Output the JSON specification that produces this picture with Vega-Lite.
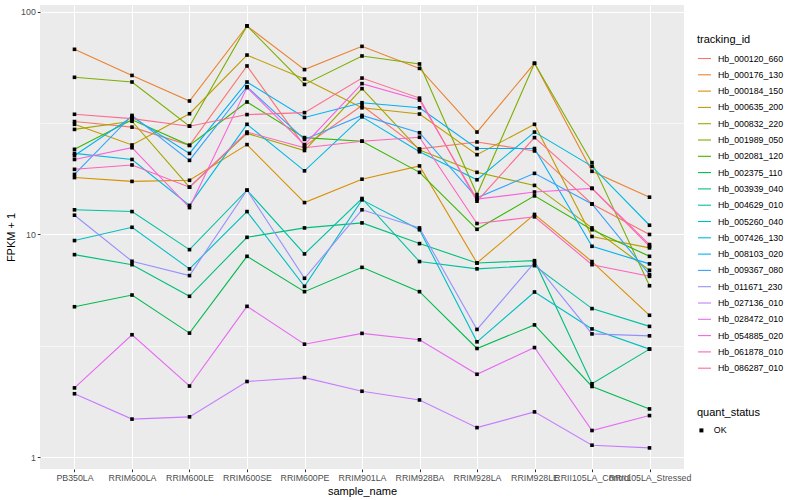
{
  "$schema": "https://vega.github.io/schema/vega-lite/v6.json",
  "width": 644,
  "height": 464,
  "autosize": {"type": "none"},
  "padding": {"left": 40, "top": 5, "right": 116, "bottom": 31},
  "background": "white",
  "config": {
    "font": "Liberation Sans",
    "view": {"fill": "#EBEBEB", "stroke": null},
    "axis": {
      "domain": false,
      "labelColor": "#4D4D4D",
      "labelFontSize": 8.8,
      "titleFontSize": 11,
      "titleFontWeight": "normal",
      "titleColor": "black",
      "tickColor": "#333333",
      "tickSize": 2.7,
      "tickWidth": 1,
      "gridColor": "white",
      "labelPadding": 2
    },
    "legend": {
      "titleFontSize": 11,
      "titleFontWeight": "normal",
      "titleColor": "black",
      "labelFontSize": 8.8,
      "labelColor": "black"
    }
  },
  "data": {
    "values": [
      {"tracking_id":"Hb_000120_660","sample_name":"PB350LA","fpkm":32.1,"quant_status":"OK"},
      {"tracking_id":"Hb_000120_660","sample_name":"RRIM600LA","fpkm":30.3,"quant_status":"OK"},
      {"tracking_id":"Hb_000120_660","sample_name":"RRIM600LE","fpkm":25.1,"quant_status":"OK"},
      {"tracking_id":"Hb_000120_660","sample_name":"RRIM600SE","fpkm":57.0,"quant_status":"OK"},
      {"tracking_id":"Hb_000120_660","sample_name":"RRIM600PE","fpkm":24.9,"quant_status":"OK"},
      {"tracking_id":"Hb_000120_660","sample_name":"RRIM901LA","fpkm":37.9,"quant_status":"OK"},
      {"tracking_id":"Hb_000120_660","sample_name":"RRIM928BA","fpkm":24.2,"quant_status":"OK"},
      {"tracking_id":"Hb_000120_660","sample_name":"RRIM928LA","fpkm":26.0,"quant_status":"OK"},
      {"tracking_id":"Hb_000120_660","sample_name":"RRIM928LE","fpkm":23.7,"quant_status":"OK"},
      {"tracking_id":"Hb_000120_660","sample_name":"RRII105LA_Control","fpkm":13.7,"quant_status":"OK"},
      {"tracking_id":"Hb_000120_660","sample_name":"RRII105LA_Stressed","fpkm":10.0,"quant_status":"OK"},

      {"tracking_id":"Hb_000176_130","sample_name":"PB350LA","fpkm":67.7,"quant_status":"OK"},
      {"tracking_id":"Hb_000176_130","sample_name":"RRIM600LA","fpkm":51.7,"quant_status":"OK"},
      {"tracking_id":"Hb_000176_130","sample_name":"RRIM600LE","fpkm":39.7,"quant_status":"OK"},
      {"tracking_id":"Hb_000176_130","sample_name":"RRIM600SE","fpkm":86.2,"quant_status":"OK"},
      {"tracking_id":"Hb_000176_130","sample_name":"RRIM600PE","fpkm":54.9,"quant_status":"OK"},
      {"tracking_id":"Hb_000176_130","sample_name":"RRIM901LA","fpkm":69.8,"quant_status":"OK"},
      {"tracking_id":"Hb_000176_130","sample_name":"RRIM928BA","fpkm":55.6,"quant_status":"OK"},
      {"tracking_id":"Hb_000176_130","sample_name":"RRIM928LA","fpkm":28.8,"quant_status":"OK"},
      {"tracking_id":"Hb_000176_130","sample_name":"RRIM928LE","fpkm":58.6,"quant_status":"OK"},
      {"tracking_id":"Hb_000176_130","sample_name":"RRII105LA_Control","fpkm":19.2,"quant_status":"OK"},
      {"tracking_id":"Hb_000176_130","sample_name":"RRII105LA_Stressed","fpkm":14.7,"quant_status":"OK"},

      {"tracking_id":"Hb_000184_150","sample_name":"PB350LA","fpkm":18.0,"quant_status":"OK"},
      {"tracking_id":"Hb_000184_150","sample_name":"RRIM600LA","fpkm":17.3,"quant_status":"OK"},
      {"tracking_id":"Hb_000184_150","sample_name":"RRIM600LE","fpkm":17.5,"quant_status":"OK"},
      {"tracking_id":"Hb_000184_150","sample_name":"RRIM600SE","fpkm":25.3,"quant_status":"OK"},
      {"tracking_id":"Hb_000184_150","sample_name":"RRIM600PE","fpkm":13.9,"quant_status":"OK"},
      {"tracking_id":"Hb_000184_150","sample_name":"RRIM901LA","fpkm":17.7,"quant_status":"OK"},
      {"tracking_id":"Hb_000184_150","sample_name":"RRIM928BA","fpkm":20.3,"quant_status":"OK"},
      {"tracking_id":"Hb_000184_150","sample_name":"RRIM928LA","fpkm":7.45,"quant_status":"OK"},
      {"tracking_id":"Hb_000184_150","sample_name":"RRIM928LE","fpkm":12.3,"quant_status":"OK"},
      {"tracking_id":"Hb_000184_150","sample_name":"RRII105LA_Control","fpkm":7.56,"quant_status":"OK"},
      {"tracking_id":"Hb_000184_150","sample_name":"RRII105LA_Stressed","fpkm":4.34,"quant_status":"OK"},

      {"tracking_id":"Hb_000635_200","sample_name":"PB350LA","fpkm":31.2,"quant_status":"OK"},
      {"tracking_id":"Hb_000635_200","sample_name":"RRIM600LA","fpkm":25.2,"quant_status":"OK"},
      {"tracking_id":"Hb_000635_200","sample_name":"RRIM600LE","fpkm":34.8,"quant_status":"OK"},
      {"tracking_id":"Hb_000635_200","sample_name":"RRIM600SE","fpkm":63.8,"quant_status":"OK"},
      {"tracking_id":"Hb_000635_200","sample_name":"RRIM600PE","fpkm":49.8,"quant_status":"OK"},
      {"tracking_id":"Hb_000635_200","sample_name":"RRIM901LA","fpkm":37.0,"quant_status":"OK"},
      {"tracking_id":"Hb_000635_200","sample_name":"RRIM928BA","fpkm":34.7,"quant_status":"OK"},
      {"tracking_id":"Hb_000635_200","sample_name":"RRIM928LA","fpkm":22.8,"quant_status":"OK"},
      {"tracking_id":"Hb_000635_200","sample_name":"RRIM928LE","fpkm":31.2,"quant_status":"OK"},
      {"tracking_id":"Hb_000635_200","sample_name":"RRII105LA_Control","fpkm":9.79,"quant_status":"OK"},
      {"tracking_id":"Hb_000635_200","sample_name":"RRII105LA_Stressed","fpkm":8.71,"quant_status":"OK"},

      {"tracking_id":"Hb_000832_220","sample_name":"PB350LA","fpkm":29.6,"quant_status":"OK"},
      {"tracking_id":"Hb_000832_220","sample_name":"RRIM600LA","fpkm":32.2,"quant_status":"OK"},
      {"tracking_id":"Hb_000832_220","sample_name":"RRIM600LE","fpkm":16.3,"quant_status":"OK"},
      {"tracking_id":"Hb_000832_220","sample_name":"RRIM600SE","fpkm":28.4,"quant_status":"OK"},
      {"tracking_id":"Hb_000832_220","sample_name":"RRIM600PE","fpkm":23.8,"quant_status":"OK"},
      {"tracking_id":"Hb_000832_220","sample_name":"RRIM901LA","fpkm":45.1,"quant_status":"OK"},
      {"tracking_id":"Hb_000832_220","sample_name":"RRIM928BA","fpkm":23.9,"quant_status":"OK"},
      {"tracking_id":"Hb_000832_220","sample_name":"RRIM928LA","fpkm":19.0,"quant_status":"OK"},
      {"tracking_id":"Hb_000832_220","sample_name":"RRIM928LE","fpkm":16.6,"quant_status":"OK"},
      {"tracking_id":"Hb_000832_220","sample_name":"RRII105LA_Control","fpkm":10.7,"quant_status":"OK"},
      {"tracking_id":"Hb_000832_220","sample_name":"RRII105LA_Stressed","fpkm":6.91,"quant_status":"OK"},

      {"tracking_id":"Hb_001989_050","sample_name":"PB350LA","fpkm":50.7,"quant_status":"OK"},
      {"tracking_id":"Hb_001989_050","sample_name":"RRIM600LA","fpkm":48.3,"quant_status":"OK"},
      {"tracking_id":"Hb_001989_050","sample_name":"RRIM600LE","fpkm":30.6,"quant_status":"OK"},
      {"tracking_id":"Hb_001989_050","sample_name":"RRIM600SE","fpkm":86.2,"quant_status":"OK"},
      {"tracking_id":"Hb_001989_050","sample_name":"RRIM600PE","fpkm":47.1,"quant_status":"OK"},
      {"tracking_id":"Hb_001989_050","sample_name":"RRIM901LA","fpkm":63.2,"quant_status":"OK"},
      {"tracking_id":"Hb_001989_050","sample_name":"RRIM928BA","fpkm":58.2,"quant_status":"OK"},
      {"tracking_id":"Hb_001989_050","sample_name":"RRIM928LA","fpkm":15.1,"quant_status":"OK"},
      {"tracking_id":"Hb_001989_050","sample_name":"RRIM928LE","fpkm":58.6,"quant_status":"OK"},
      {"tracking_id":"Hb_001989_050","sample_name":"RRII105LA_Control","fpkm":21.0,"quant_status":"OK"},
      {"tracking_id":"Hb_001989_050","sample_name":"RRII105LA_Stressed","fpkm":5.89,"quant_status":"OK"},

      {"tracking_id":"Hb_002081_120","sample_name":"PB350LA","fpkm":24.1,"quant_status":"OK"},
      {"tracking_id":"Hb_002081_120","sample_name":"RRIM600LA","fpkm":32.7,"quant_status":"OK"},
      {"tracking_id":"Hb_002081_120","sample_name":"RRIM600LE","fpkm":25.1,"quant_status":"OK"},
      {"tracking_id":"Hb_002081_120","sample_name":"RRIM600SE","fpkm":39.3,"quant_status":"OK"},
      {"tracking_id":"Hb_002081_120","sample_name":"RRIM600PE","fpkm":27.2,"quant_status":"OK"},
      {"tracking_id":"Hb_002081_120","sample_name":"RRIM901LA","fpkm":26.2,"quant_status":"OK"},
      {"tracking_id":"Hb_002081_120","sample_name":"RRIM928BA","fpkm":19.0,"quant_status":"OK"},
      {"tracking_id":"Hb_002081_120","sample_name":"RRIM928LA","fpkm":10.55,"quant_status":"OK"},
      {"tracking_id":"Hb_002081_120","sample_name":"RRIM928LE","fpkm":14.9,"quant_status":"OK"},
      {"tracking_id":"Hb_002081_120","sample_name":"RRII105LA_Control","fpkm":10.5,"quant_status":"OK"},
      {"tracking_id":"Hb_002081_120","sample_name":"RRII105LA_Stressed","fpkm":7.98,"quant_status":"OK"},

      {"tracking_id":"Hb_002375_110","sample_name":"PB350LA","fpkm":4.74,"quant_status":"OK"},
      {"tracking_id":"Hb_002375_110","sample_name":"RRIM600LA","fpkm":5.35,"quant_status":"OK"},
      {"tracking_id":"Hb_002375_110","sample_name":"RRIM600LE","fpkm":3.61,"quant_status":"OK"},
      {"tracking_id":"Hb_002375_110","sample_name":"RRIM600SE","fpkm":7.98,"quant_status":"OK"},
      {"tracking_id":"Hb_002375_110","sample_name":"RRIM600PE","fpkm":5.54,"quant_status":"OK"},
      {"tracking_id":"Hb_002375_110","sample_name":"RRIM901LA","fpkm":7.12,"quant_status":"OK"},
      {"tracking_id":"Hb_002375_110","sample_name":"RRIM928BA","fpkm":5.54,"quant_status":"OK"},
      {"tracking_id":"Hb_002375_110","sample_name":"RRIM928LA","fpkm":3.08,"quant_status":"OK"},
      {"tracking_id":"Hb_002375_110","sample_name":"RRIM928LE","fpkm":3.93,"quant_status":"OK"},
      {"tracking_id":"Hb_002375_110","sample_name":"RRII105LA_Control","fpkm":2.08,"quant_status":"OK"},
      {"tracking_id":"Hb_002375_110","sample_name":"RRII105LA_Stressed","fpkm":1.65,"quant_status":"OK"},

      {"tracking_id":"Hb_003939_040","sample_name":"PB350LA","fpkm":8.12,"quant_status":"OK"},
      {"tracking_id":"Hb_003939_040","sample_name":"RRIM600LA","fpkm":7.32,"quant_status":"OK"},
      {"tracking_id":"Hb_003939_040","sample_name":"RRIM600LE","fpkm":5.28,"quant_status":"OK"},
      {"tracking_id":"Hb_003939_040","sample_name":"RRIM600SE","fpkm":9.71,"quant_status":"OK"},
      {"tracking_id":"Hb_003939_040","sample_name":"RRIM600PE","fpkm":10.7,"quant_status":"OK"},
      {"tracking_id":"Hb_003939_040","sample_name":"RRIM901LA","fpkm":11.27,"quant_status":"OK"},
      {"tracking_id":"Hb_003939_040","sample_name":"RRIM928BA","fpkm":9.10,"quant_status":"OK"},
      {"tracking_id":"Hb_003939_040","sample_name":"RRIM928LA","fpkm":7.45,"quant_status":"OK"},
      {"tracking_id":"Hb_003939_040","sample_name":"RRIM928LE","fpkm":7.63,"quant_status":"OK"},
      {"tracking_id":"Hb_003939_040","sample_name":"RRII105LA_Control","fpkm":2.14,"quant_status":"OK"},
      {"tracking_id":"Hb_003939_040","sample_name":"RRII105LA_Stressed","fpkm":3.06,"quant_status":"OK"},

      {"tracking_id":"Hb_004629_010","sample_name":"PB350LA","fpkm":12.9,"quant_status":"OK"},
      {"tracking_id":"Hb_004629_010","sample_name":"RRIM600LA","fpkm":12.67,"quant_status":"OK"},
      {"tracking_id":"Hb_004629_010","sample_name":"RRIM600LE","fpkm":8.55,"quant_status":"OK"},
      {"tracking_id":"Hb_004629_010","sample_name":"RRIM600SE","fpkm":15.8,"quant_status":"OK"},
      {"tracking_id":"Hb_004629_010","sample_name":"RRIM600PE","fpkm":8.18,"quant_status":"OK"},
      {"tracking_id":"Hb_004629_010","sample_name":"RRIM901LA","fpkm":14.5,"quant_status":"OK"},
      {"tracking_id":"Hb_004629_010","sample_name":"RRIM928BA","fpkm":7.56,"quant_status":"OK"},
      {"tracking_id":"Hb_004629_010","sample_name":"RRIM928LA","fpkm":7.01,"quant_status":"OK"},
      {"tracking_id":"Hb_004629_010","sample_name":"RRIM928LE","fpkm":7.25,"quant_status":"OK"},
      {"tracking_id":"Hb_004629_010","sample_name":"RRII105LA_Control","fpkm":4.65,"quant_status":"OK"},
      {"tracking_id":"Hb_004629_010","sample_name":"RRII105LA_Stressed","fpkm":3.87,"quant_status":"OK"},

      {"tracking_id":"Hb_005260_040","sample_name":"PB350LA","fpkm":9.39,"quant_status":"OK"},
      {"tracking_id":"Hb_005260_040","sample_name":"RRIM600LA","fpkm":10.77,"quant_status":"OK"},
      {"tracking_id":"Hb_005260_040","sample_name":"RRIM600LE","fpkm":7.01,"quant_status":"OK"},
      {"tracking_id":"Hb_005260_040","sample_name":"RRIM600SE","fpkm":12.67,"quant_status":"OK"},
      {"tracking_id":"Hb_005260_040","sample_name":"RRIM600PE","fpkm":5.85,"quant_status":"OK"},
      {"tracking_id":"Hb_005260_040","sample_name":"RRIM901LA","fpkm":14.3,"quant_status":"OK"},
      {"tracking_id":"Hb_005260_040","sample_name":"RRIM928BA","fpkm":10.5,"quant_status":"OK"},
      {"tracking_id":"Hb_005260_040","sample_name":"RRIM928LA","fpkm":3.30,"quant_status":"OK"},
      {"tracking_id":"Hb_005260_040","sample_name":"RRIM928LE","fpkm":5.52,"quant_status":"OK"},
      {"tracking_id":"Hb_005260_040","sample_name":"RRII105LA_Control","fpkm":3.77,"quant_status":"OK"},
      {"tracking_id":"Hb_005260_040","sample_name":"RRII105LA_Stressed","fpkm":3.06,"quant_status":"OK"},

      {"tracking_id":"Hb_007426_130","sample_name":"PB350LA","fpkm":23.1,"quant_status":"OK"},
      {"tracking_id":"Hb_007426_130","sample_name":"RRIM600LA","fpkm":21.7,"quant_status":"OK"},
      {"tracking_id":"Hb_007426_130","sample_name":"RRIM600LE","fpkm":13.5,"quant_status":"OK"},
      {"tracking_id":"Hb_007426_130","sample_name":"RRIM600SE","fpkm":31.2,"quant_status":"OK"},
      {"tracking_id":"Hb_007426_130","sample_name":"RRIM600PE","fpkm":19.3,"quant_status":"OK"},
      {"tracking_id":"Hb_007426_130","sample_name":"RRIM901LA","fpkm":33.7,"quant_status":"OK"},
      {"tracking_id":"Hb_007426_130","sample_name":"RRIM928BA","fpkm":23.5,"quant_status":"OK"},
      {"tracking_id":"Hb_007426_130","sample_name":"RRIM928LA","fpkm":17.6,"quant_status":"OK"},
      {"tracking_id":"Hb_007426_130","sample_name":"RRIM928LE","fpkm":28.8,"quant_status":"OK"},
      {"tracking_id":"Hb_007426_130","sample_name":"RRII105LA_Control","fpkm":20.2,"quant_status":"OK"},
      {"tracking_id":"Hb_007426_130","sample_name":"RRII105LA_Stressed","fpkm":11.0,"quant_status":"OK"},

      {"tracking_id":"Hb_008103_020","sample_name":"PB350LA","fpkm":22.6,"quant_status":"OK"},
      {"tracking_id":"Hb_008103_020","sample_name":"RRIM600LA","fpkm":33.7,"quant_status":"OK"},
      {"tracking_id":"Hb_008103_020","sample_name":"RRIM600LE","fpkm":23.1,"quant_status":"OK"},
      {"tracking_id":"Hb_008103_020","sample_name":"RRIM600SE","fpkm":48.3,"quant_status":"OK"},
      {"tracking_id":"Hb_008103_020","sample_name":"RRIM600PE","fpkm":33.5,"quant_status":"OK"},
      {"tracking_id":"Hb_008103_020","sample_name":"RRIM901LA","fpkm":39.0,"quant_status":"OK"},
      {"tracking_id":"Hb_008103_020","sample_name":"RRIM928BA","fpkm":37.0,"quant_status":"OK"},
      {"tracking_id":"Hb_008103_020","sample_name":"RRIM928LA","fpkm":24.3,"quant_status":"OK"},
      {"tracking_id":"Hb_008103_020","sample_name":"RRIM928LE","fpkm":24.3,"quant_status":"OK"},
      {"tracking_id":"Hb_008103_020","sample_name":"RRII105LA_Control","fpkm":8.85,"quant_status":"OK"},
      {"tracking_id":"Hb_008103_020","sample_name":"RRII105LA_Stressed","fpkm":7.38,"quant_status":"OK"},

      {"tracking_id":"Hb_009367_080","sample_name":"PB350LA","fpkm":18.6,"quant_status":"OK"},
      {"tracking_id":"Hb_009367_080","sample_name":"RRIM600LA","fpkm":34.2,"quant_status":"OK"},
      {"tracking_id":"Hb_009367_080","sample_name":"RRIM600LE","fpkm":21.5,"quant_status":"OK"},
      {"tracking_id":"Hb_009367_080","sample_name":"RRIM600SE","fpkm":46.0,"quant_status":"OK"},
      {"tracking_id":"Hb_009367_080","sample_name":"RRIM600PE","fpkm":26.7,"quant_status":"OK"},
      {"tracking_id":"Hb_009367_080","sample_name":"RRIM901LA","fpkm":34.2,"quant_status":"OK"},
      {"tracking_id":"Hb_009367_080","sample_name":"RRIM928BA","fpkm":28.6,"quant_status":"OK"},
      {"tracking_id":"Hb_009367_080","sample_name":"RRIM928LA","fpkm":14.6,"quant_status":"OK"},
      {"tracking_id":"Hb_009367_080","sample_name":"RRIM928LE","fpkm":18.8,"quant_status":"OK"},
      {"tracking_id":"Hb_009367_080","sample_name":"RRII105LA_Control","fpkm":13.7,"quant_status":"OK"},
      {"tracking_id":"Hb_009367_080","sample_name":"RRII105LA_Stressed","fpkm":6.61,"quant_status":"OK"},

      {"tracking_id":"Hb_011671_230","sample_name":"PB350LA","fpkm":12.2,"quant_status":"OK"},
      {"tracking_id":"Hb_011671_230","sample_name":"RRIM600LA","fpkm":7.58,"quant_status":"OK"},
      {"tracking_id":"Hb_011671_230","sample_name":"RRIM600LE","fpkm":6.54,"quant_status":"OK"},
      {"tracking_id":"Hb_011671_230","sample_name":"RRIM600SE","fpkm":15.8,"quant_status":"OK"},
      {"tracking_id":"Hb_011671_230","sample_name":"RRIM600PE","fpkm":6.36,"quant_status":"OK"},
      {"tracking_id":"Hb_011671_230","sample_name":"RRIM901LA","fpkm":12.9,"quant_status":"OK"},
      {"tracking_id":"Hb_011671_230","sample_name":"RRIM928BA","fpkm":10.7,"quant_status":"OK"},
      {"tracking_id":"Hb_011671_230","sample_name":"RRIM928LA","fpkm":3.75,"quant_status":"OK"},
      {"tracking_id":"Hb_011671_230","sample_name":"RRIM928LE","fpkm":7.48,"quant_status":"OK"},
      {"tracking_id":"Hb_011671_230","sample_name":"RRII105LA_Control","fpkm":3.58,"quant_status":"OK"},
      {"tracking_id":"Hb_011671_230","sample_name":"RRII105LA_Stressed","fpkm":3.51,"quant_status":"OK"},

      {"tracking_id":"Hb_027136_010","sample_name":"PB350LA","fpkm":1.93,"quant_status":"OK"},
      {"tracking_id":"Hb_027136_010","sample_name":"RRIM600LA","fpkm":1.485,"quant_status":"OK"},
      {"tracking_id":"Hb_027136_010","sample_name":"RRIM600LE","fpkm":1.52,"quant_status":"OK"},
      {"tracking_id":"Hb_027136_010","sample_name":"RRIM600SE","fpkm":2.19,"quant_status":"OK"},
      {"tracking_id":"Hb_027136_010","sample_name":"RRIM600PE","fpkm":2.28,"quant_status":"OK"},
      {"tracking_id":"Hb_027136_010","sample_name":"RRIM901LA","fpkm":1.98,"quant_status":"OK"},
      {"tracking_id":"Hb_027136_010","sample_name":"RRIM928BA","fpkm":1.81,"quant_status":"OK"},
      {"tracking_id":"Hb_027136_010","sample_name":"RRIM928LA","fpkm":1.36,"quant_status":"OK"},
      {"tracking_id":"Hb_027136_010","sample_name":"RRIM928LE","fpkm":1.60,"quant_status":"OK"},
      {"tracking_id":"Hb_027136_010","sample_name":"RRII105LA_Control","fpkm":1.134,"quant_status":"OK"},
      {"tracking_id":"Hb_027136_010","sample_name":"RRII105LA_Stressed","fpkm":1.103,"quant_status":"OK"},

      {"tracking_id":"Hb_028472_010","sample_name":"PB350LA","fpkm":2.05,"quant_status":"OK"},
      {"tracking_id":"Hb_028472_010","sample_name":"RRIM600LA","fpkm":3.55,"quant_status":"OK"},
      {"tracking_id":"Hb_028472_010","sample_name":"RRIM600LE","fpkm":2.09,"quant_status":"OK"},
      {"tracking_id":"Hb_028472_010","sample_name":"RRIM600SE","fpkm":4.76,"quant_status":"OK"},
      {"tracking_id":"Hb_028472_010","sample_name":"RRIM600PE","fpkm":3.22,"quant_status":"OK"},
      {"tracking_id":"Hb_028472_010","sample_name":"RRIM901LA","fpkm":3.60,"quant_status":"OK"},
      {"tracking_id":"Hb_028472_010","sample_name":"RRIM928BA","fpkm":3.37,"quant_status":"OK"},
      {"tracking_id":"Hb_028472_010","sample_name":"RRIM928LA","fpkm":2.36,"quant_status":"OK"},
      {"tracking_id":"Hb_028472_010","sample_name":"RRIM928LE","fpkm":3.11,"quant_status":"OK"},
      {"tracking_id":"Hb_028472_010","sample_name":"RRII105LA_Control","fpkm":1.32,"quant_status":"OK"},
      {"tracking_id":"Hb_028472_010","sample_name":"RRII105LA_Stressed","fpkm":1.54,"quant_status":"OK"},

      {"tracking_id":"Hb_054885_020","sample_name":"PB350LA","fpkm":21.7,"quant_status":"OK"},
      {"tracking_id":"Hb_054885_020","sample_name":"RRIM600LA","fpkm":24.5,"quant_status":"OK"},
      {"tracking_id":"Hb_054885_020","sample_name":"RRIM600LE","fpkm":13.2,"quant_status":"OK"},
      {"tracking_id":"Hb_054885_020","sample_name":"RRIM600SE","fpkm":45.6,"quant_status":"OK"},
      {"tracking_id":"Hb_054885_020","sample_name":"RRIM600PE","fpkm":25.3,"quant_status":"OK"},
      {"tracking_id":"Hb_054885_020","sample_name":"RRIM901LA","fpkm":47.5,"quant_status":"OK"},
      {"tracking_id":"Hb_054885_020","sample_name":"RRIM928BA","fpkm":40.1,"quant_status":"OK"},
      {"tracking_id":"Hb_054885_020","sample_name":"RRIM928LA","fpkm":14.4,"quant_status":"OK"},
      {"tracking_id":"Hb_054885_020","sample_name":"RRIM928LE","fpkm":15.5,"quant_status":"OK"},
      {"tracking_id":"Hb_054885_020","sample_name":"RRII105LA_Control","fpkm":16.1,"quant_status":"OK"},
      {"tracking_id":"Hb_054885_020","sample_name":"RRII105LA_Stressed","fpkm":9.01,"quant_status":"OK"},

      {"tracking_id":"Hb_061878_010","sample_name":"PB350LA","fpkm":19.6,"quant_status":"OK"},
      {"tracking_id":"Hb_061878_010","sample_name":"RRIM600LA","fpkm":20.5,"quant_status":"OK"},
      {"tracking_id":"Hb_061878_010","sample_name":"RRIM600LE","fpkm":16.3,"quant_status":"OK"},
      {"tracking_id":"Hb_061878_010","sample_name":"RRIM600SE","fpkm":28.8,"quant_status":"OK"},
      {"tracking_id":"Hb_061878_010","sample_name":"RRIM600PE","fpkm":24.5,"quant_status":"OK"},
      {"tracking_id":"Hb_061878_010","sample_name":"RRIM901LA","fpkm":26.2,"quant_status":"OK"},
      {"tracking_id":"Hb_061878_010","sample_name":"RRIM928BA","fpkm":27.3,"quant_status":"OK"},
      {"tracking_id":"Hb_061878_010","sample_name":"RRIM928LA","fpkm":11.2,"quant_status":"OK"},
      {"tracking_id":"Hb_061878_010","sample_name":"RRIM928LE","fpkm":12.0,"quant_status":"OK"},
      {"tracking_id":"Hb_061878_010","sample_name":"RRII105LA_Control","fpkm":7.32,"quant_status":"OK"},
      {"tracking_id":"Hb_061878_010","sample_name":"RRII105LA_Stressed","fpkm":6.49,"quant_status":"OK"},

      {"tracking_id":"Hb_086287_010","sample_name":"PB350LA","fpkm":34.6,"quant_status":"OK"},
      {"tracking_id":"Hb_086287_010","sample_name":"RRIM600LA","fpkm":33.1,"quant_status":"OK"},
      {"tracking_id":"Hb_086287_010","sample_name":"RRIM600LE","fpkm":30.6,"quant_status":"OK"},
      {"tracking_id":"Hb_086287_010","sample_name":"RRIM600SE","fpkm":34.5,"quant_status":"OK"},
      {"tracking_id":"Hb_086287_010","sample_name":"RRIM600PE","fpkm":35.2,"quant_status":"OK"},
      {"tracking_id":"Hb_086287_010","sample_name":"RRIM901LA","fpkm":50.3,"quant_status":"OK"},
      {"tracking_id":"Hb_086287_010","sample_name":"RRIM928BA","fpkm":40.9,"quant_status":"OK"},
      {"tracking_id":"Hb_086287_010","sample_name":"RRIM928LA","fpkm":14.1,"quant_status":"OK"},
      {"tracking_id":"Hb_086287_010","sample_name":"RRIM928LE","fpkm":27.2,"quant_status":"OK"},
      {"tracking_id":"Hb_086287_010","sample_name":"RRII105LA_Control","fpkm":16.1,"quant_status":"OK"},
      {"tracking_id":"Hb_086287_010","sample_name":"RRII105LA_Stressed","fpkm":8.85,"quant_status":"OK"}
    ]
  },
  "encoding": {
    "x": {
      "field": "sample_name",
      "type": "nominal",
      "sort": ["PB350LA","RRIM600LA","RRIM600LE","RRIM600SE","RRIM600PE","RRIM901LA","RRIM928BA","RRIM928LA","RRIM928LE","RRII105LA_Control","RRII105LA_Stressed"],
      "scale": {"type": "point", "padding": 0.6},
      "axis": {
        "title": "sample_name",
        "labelAngle": 0,
        "labelOverlap": false,
        "labelBound": false,
        "grid": true,
        "gridWidth": 1.07,
        "titlePadding": 3
      }
    },
    "y": {
      "field": "fpkm",
      "type": "quantitative",
      "scale": {"type": "log", "domain": [0.887, 107], "nice": false, "zero": false},
      "axis": {
        "title": "FPKM + 1",
        "values": [1, 3.1623, 10, 31.623, 100],
        "labelOverlap": false,
        "labelExpr": "datum.value < 1.5 ? '1' : (datum.value > 9 && datum.value < 11) ? '10' : datum.value > 90 ? '100' : ''",
        "grid": true,
        "gridWidth": {"condition": {"test": "datum.value < 1.5 || (datum.value > 9 && datum.value < 11) || datum.value > 90", "value": 1.07}, "value": 0.55},
        "tickOpacity": {"condition": {"test": "datum.value < 1.5 || (datum.value > 9 && datum.value < 11) || datum.value > 90", "value": 1}, "value": 0},
        "titlePadding": 4
      }
    }
  },
  "layer": [
    {
      "mark": {"type": "line", "strokeWidth": 1.1},
      "encoding": {
        "color": {
          "field": "tracking_id",
          "type": "nominal",
          "scale": {
            "domain": ["Hb_000120_660","Hb_000176_130","Hb_000184_150","Hb_000635_200","Hb_000832_220","Hb_001989_050","Hb_002081_120","Hb_002375_110","Hb_003939_040","Hb_004629_010","Hb_005260_040","Hb_007426_130","Hb_008103_020","Hb_009367_080","Hb_011671_230","Hb_027136_010","Hb_028472_010","Hb_054885_020","Hb_061878_010","Hb_086287_010"],
            "range": ["#F8766D","#EA8331","#D89000","#C09B00","#A3A500","#7CAE00","#39B600","#00BB4E","#00BF7D","#00C1A3","#00BFC4","#00BAE0","#00B0F6","#35A2FF","#9590FF","#C77CFF","#E76BF3","#FA62DB","#FF62BC","#FF6C91"]
          },
          "legend": {
            "title": "tracking_id",
            "orient": "none",
            "legendX": 657,
            "legendY": 29,
            "symbolType": "stroke",
            "symbolSize": 170,
            "symbolStrokeWidth": 1.1,
            "rowPadding": 3.3,
            "labelOffset": 6,
            "titlePadding": 6
          }
        }
      }
    },
    {
      "mark": {"type": "point", "filled": true, "color": "black", "size": 13, "opacity": 1},
      "encoding": {
        "shape": {
          "field": "quant_status",
          "type": "nominal",
          "scale": {"domain": ["OK"], "range": ["square"]},
          "legend": {
            "title": "quant_status",
            "orient": "none",
            "legendX": 657,
            "legendY": 402,
            "symbolSize": 16,
            "symbolFillColor": "black",
            "symbolStrokeColor": "black",
            "labelOffset": 8,
            "titlePadding": 8
          }
        }
      }
    }
  ]
}
